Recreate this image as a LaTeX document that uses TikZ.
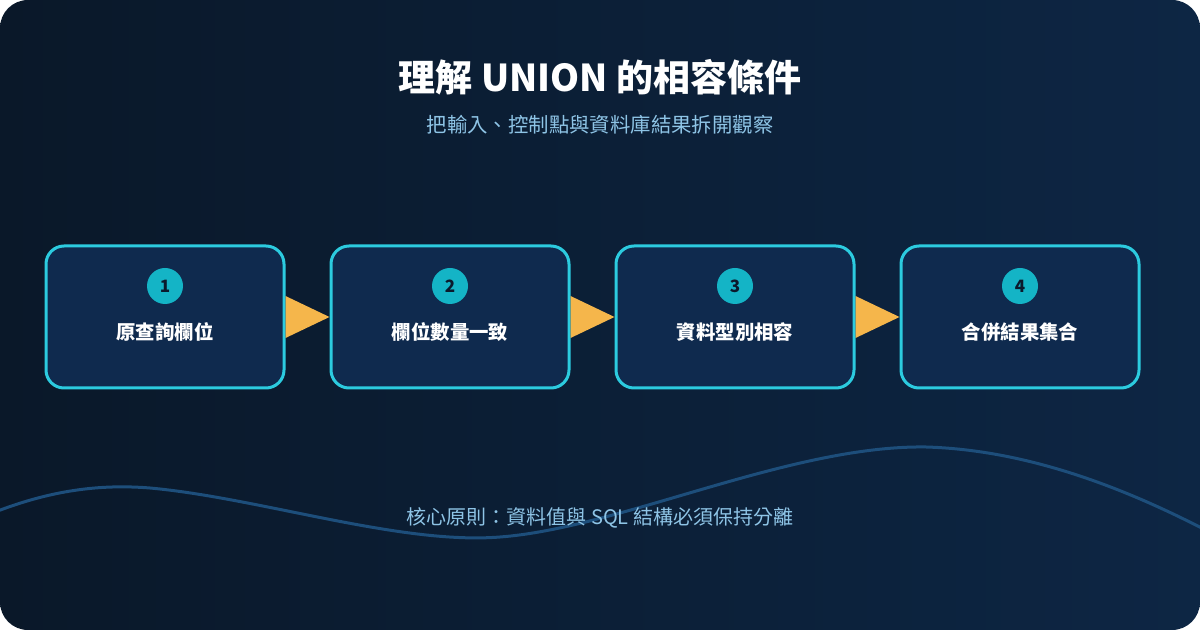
\documentclass[tikz,border=0pt]{standalone}
\usepackage{fontspec}
\setmainfont{Noto Sans CJK TC}
\usepackage{xcolor}
\usepackage{tikz}
\usetikzlibrary{positioning,arrows.meta}

\definecolor{bgleft}{HTML}{0A1829}
\definecolor{bgright}{HTML}{0D2644}
\definecolor{boxfill}{HTML}{0F2A4E}
\definecolor{boxline}{HTML}{2CCBDF}
\definecolor{numfill}{HTML}{14B4C6}
\definecolor{numtext}{HTML}{0B1A2C}
\definecolor{arrowfill}{HTML}{F5B64B}
\definecolor{subtext}{HTML}{8EC4E6}
\definecolor{wavecol}{HTML}{1D4E7B}

\begin{document}
\begin{tikzpicture}[x=0.5pt,y=-0.5pt,
    stepbox/.style={draw=boxline, line width=1.5pt, fill=boxfill, rounded corners=9pt,
                    minimum width=119pt, minimum height=71pt},
    stepnum/.style={circle, fill=numfill, minimum size=18pt, inner sep=0pt,
                    text=numtext, font=\bfseries\fontsize{8.5}{9}\selectfont},
    steptext/.style={text=white, font=\bfseries\fontsize{9.7}{11}\selectfont},
    flow/.style={fill=arrowfill}]
    \useasboundingbox (0,0) rectangle (1200,630);
    % background
    \fill[white] (0,0) rectangle (1200,630);
    \shade[left color=bgleft, right color=bgright, rounded corners=14pt] (0,0) rectangle (1200,630);
    \begin{scope}
        \clip[rounded corners=14pt] (0,0) rectangle (1200,630);
        \draw[wavecol, line width=1.5pt] (-10,514) .. controls (50,490) and (100,484) .. (150,488)
            .. controls (260,498) and (400,545) .. (500,537)
            .. controls (620,528) and (790,445) .. (926,447)
            .. controls (1030,450) and (1130,490) .. (1215,535);
    \end{scope}
    % titles
    \node[text=white, font=\bfseries\fontsize{18.5}{20}\selectfont] (title) at (600,77) {理解 UNION 的相容條件};
    \node[text=subtext, font=\fontsize{10.2}{12}\selectfont] (subtitle) at (600,125) {把輸入、控制點與資料庫結果拆開觀察};
    % steps
    \node[stepbox] (s1) at (165,317) {};
    \node[stepnum] (n1) at (165,286) {1};
    \node[steptext] (t1) at (165,332) {原查詢欄位};
    \node[stepbox] (s2) at (450,317) {};
    \node[stepnum] (n2) at (450,286) {2};
    \node[steptext] (t2) at (450,332) {欄位數量一致};
    \node[stepbox] (s3) at (735,317) {};
    \node[stepnum] (n3) at (735,286) {3};
    \node[steptext] (t3) at (735,332) {資料型別相容};
    \node[stepbox] (s4) at (1020,317) {};
    \node[stepnum] (n4) at (1020,286) {4};
    \node[steptext] (t4) at (1020,332) {合併結果集合};
    % arrows
    \fill[flow] (s1.east) ++(0,-21) -- (s2.west) -- ([yshift=-10.5pt]s1.east) -- cycle;
    \fill[flow] (s2.east) ++(0,-21) -- (s3.west) -- ([yshift=-10.5pt]s2.east) -- cycle;
    \fill[flow] (s3.east) ++(0,-21) -- (s4.west) -- ([yshift=-10.5pt]s3.east) -- cycle;
    % footer
    \node[text=subtext, font=\fontsize{10}{12}\selectfont] (footer) at (600,518) {核心原則：資料值與 SQL 結構必須保持分離};
\end{tikzpicture}
\end{document}
